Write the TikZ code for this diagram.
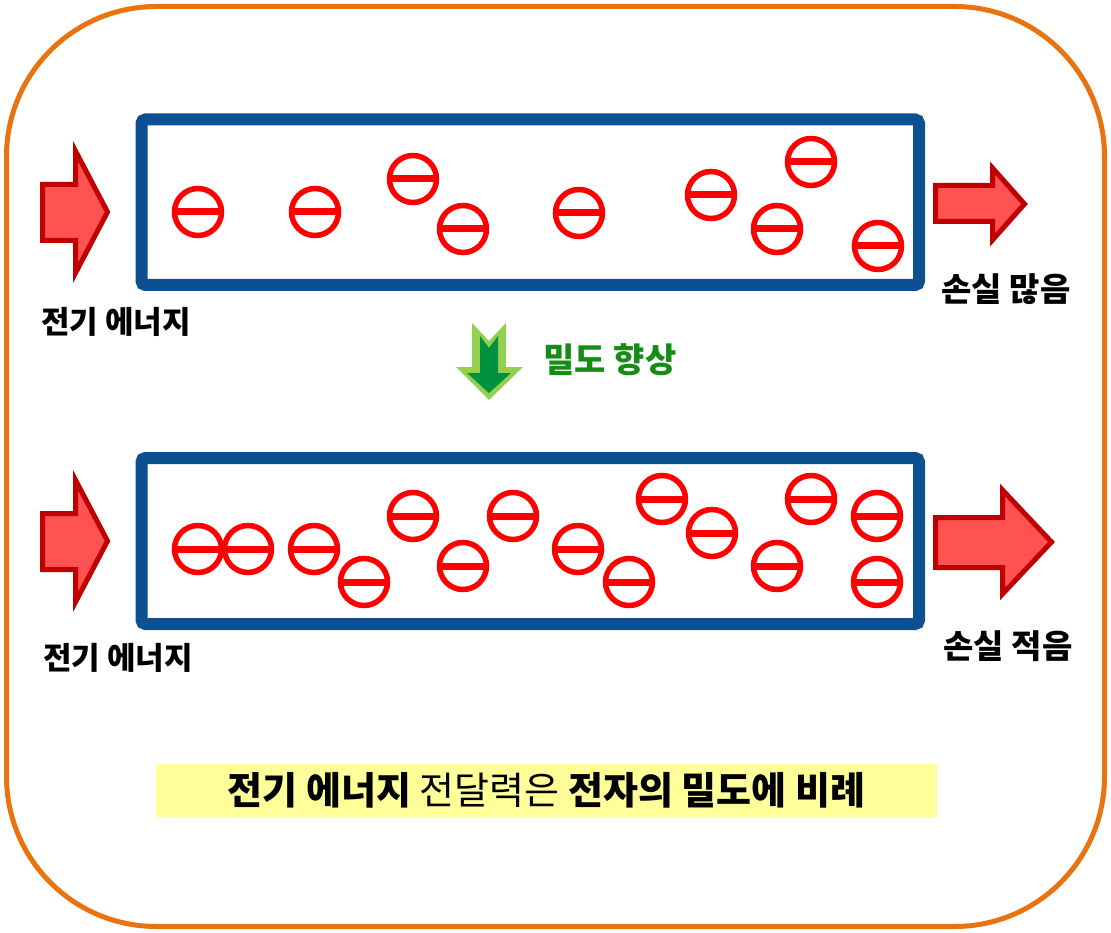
\documentclass[tikz,border=0pt]{standalone}
\usepackage{fontspec}
\newfontfamily\kr{Noto Sans CJK KR}
\definecolor{frameorange}{RGB}{232,115,15}
\definecolor{tubeblue}{RGB}{12,80,146}
\definecolor{arrowfill}{RGB}{255,82,82}
\definecolor{arrowedge}{RGB}{192,0,0}
\definecolor{elecred}{RGB}{255,0,0}
\definecolor{lightgreen}{RGB}{146,208,80}
\definecolor{darkgreen}{RGB}{0,146,63}
\definecolor{textgreen}{RGB}{22,140,22}
\definecolor{notey}{RGB}{255,255,153}
\tikzset{
  frame/.style={draw=frameorange,line width=5pt,rounded corners=150pt},
  tube/.style={draw=tubeblue,line width=12pt,rounded corners=4pt},
  redarrow/.style={fill=arrowfill,draw=arrowedge,line width=5pt,line join=miter},
  lbl/.style={font=\kr\bfseries\fontsize{31}{35}\selectfont,text=black,inner sep=0pt},
  losslbl/.style={font=\kr\bfseries\fontsize{33}{37}\selectfont,text=black,inner sep=0pt},
  greenlbl/.style={font=\kr\bfseries\fontsize{34}{38}\selectfont,text=textgreen,inner sep=0pt},
  electron/.pic={
    \draw[elecred,line width=5.5pt] (0,0) circle[radius=23.5pt];
    \draw[elecred,line width=7pt] (-24,0) -- (24,0);
  }
}
\begin{document}
\begin{tikzpicture}[x=1pt,y=-1pt]
\useasboundingbox (0,0) rectangle (1111,933);
% outer frame
\draw[frame] (6.5,6.5) rectangle (1104.5,926.5);
% tubes
\draw[tube] (141.5,119.5) rectangle (919,285);
\draw[tube] (141.5,458) rectangle (919,624);
% electrons top
\foreach \px/\py in {198/212,315/212,413/179,463/229,579/213,711/195,811/162,777/229,878/246}
  \pic at (\px,\py) {electron};
% electrons bottom
\foreach \px/\py in {198/549,248/549,314/549,364/582,413/516,463/566,513/516,578/549,629/582,662/499,712/533,777/566,811/499,877/516,877/582}
  \pic at (\px,\py) {electron};
% red arrows
\draw[redarrow] (42.5,184.5) -- (75.5,184.5) -- (75.5,151) -- (107.5,212) -- (75.5,273) -- (75.5,240.5) -- (42.5,240.5) -- cycle;
\draw[redarrow] (42.5,513.5) -- (75.5,513.5) -- (75.5,480) -- (107.5,541) -- (75.5,602) -- (75.5,569.5) -- (42.5,569.5) -- cycle;
\draw[redarrow] (935.5,185.5) -- (992.5,185.5) -- (992.5,168) -- (1024.5,204) -- (992.5,240) -- (992.5,221.5) -- (935.5,221.5) -- cycle;
\draw[redarrow] (935.5,517.5) -- (1002.5,517.5) -- (1002.5,490) -- (1051.5,542) -- (1002.5,594) -- (1002.5,567.5) -- (935.5,567.5) -- cycle;
% green arrow
\fill[lightgreen] (472,323) -- (489,341) -- (506,323) -- (506,367) -- (523,367) -- (489,400) -- (456,367) -- (472,367) -- cycle;
\fill[darkgreen] (480,336) -- (489,348) -- (498,336) -- (498,373) -- (511,373) -- (489,393) -- (467,373) -- (480,373) -- cycle;
% labels
\node[lbl] (inTop) at (116,322) {전기 에너지};
\node[lbl] (inBot) at (118,658) {전기 에너지};
\node[losslbl] (outTop) at (1006,289) {손실 많음};
\node[losslbl] (outBot) at (1008,646) {손실 적음};
\node[greenlbl] (dens) at (610,360) {밀도 향상};
% note
\node[fill=notey,minimum width=781pt,minimum height=53pt,inner sep=0pt,
      font=\kr\fontsize{38}{42}\selectfont] (note) at (546.5,790.5)
  {{\bfseries 전기 에너지} 전달력은 {\bfseries 전자의 밀도에 비례}};
\end{tikzpicture}
\end{document}
